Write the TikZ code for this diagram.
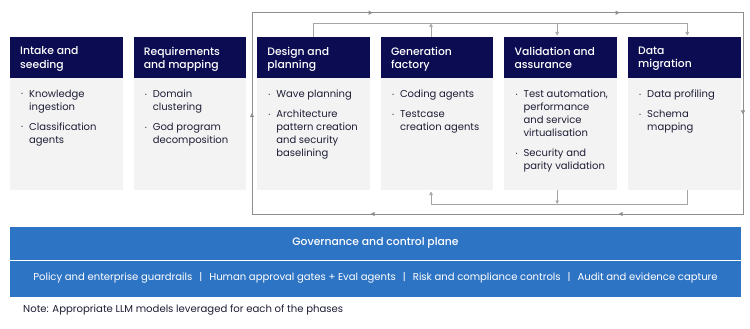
\documentclass[tikz,border=0pt]{standalone}
\usepackage{fontspec}
\setmainfont{Poppins}[BoldFont={Poppins Medium}]
\usetikzlibrary{arrows.meta,calc,decorations.markings}
\definecolor{navy}{HTML}{0C0C52}
\definecolor{bodybg}{HTML}{F3F3F3}
\definecolor{txt}{HTML}{1E1E36}
\definecolor{govblue}{HTML}{2E74C4}
\definecolor{linegray}{HTML}{A5A5A5}
\definecolor{outergray}{HTML}{8E8E8E}
\newcommand{\mybul}{\makebox[8pt][l]{\raisebox{1.2pt}{\fontsize{5}{5}\selectfont •}}}
\newcommand{\myind}{\hspace*{8pt}}
\begin{document}
\begin{tikzpicture}[x=1pt,y=-1pt,
  hdr/.style={fill=navy, minimum width=112.5pt, minimum height=41pt, anchor=north west, inner sep=0, outer sep=0},
  bodybox/.style={fill=bodybg, minimum width=112.5pt, minimum height=112pt, anchor=north west, inner sep=0, outer sep=0},
  htext/.style={anchor=north west, inner sep=0, align=left, text=white, font=\fontsize{10.8}{13.5}\selectfont\bfseries},
  btext/.style={anchor=north west, inner sep=0, align=left, text=txt, font=\fontsize{10}{13}\selectfont},
  conn/.style={draw=linegray, line width=0.6pt},
  tip/.style={-{Triangle[length=3.5pt,width=3.5pt]}},
  outer/.style={draw=outergray, line width=0.9pt},
  mk/.style={postaction={decorate}, decoration={markings,
     mark=at position 101pt with {\arrow[outergray]{Triangle[length=4pt,width=4pt]}},
     mark=at position 322pt with {\arrow[outergray]{Triangle[length=4pt,width=4pt]}},
     mark=at position 569pt with {\arrow[outergray]{Triangle[length=4pt,width=4pt]}},
     mark=at position 794pt with {\arrow[outergray]{Triangle[length=4pt,width=4pt]}},
     mark=at position 1018pt with {\arrow[outergray]{Triangle[length=4pt,width=4pt]}},
     mark=at position 1266pt with {\arrow[outergray]{Triangle[length=4pt,width=4pt]}}}},
]
\useasboundingbox (0,0) rectangle (750,329);

% phase boxes
\node[bodybox] (intakeb) at (10,78) {};
\node[hdr] (intake) at (10,37) {};
\node[bodybox] (reqb) at (133.6,78) {};
\node[hdr] (req) at (133.6,37) {};
\node[bodybox] (designb) at (257.2,78) {};
\node[hdr] (design) at (257.2,37) {};
\node[bodybox] (genb) at (380.8,78) {};
\node[hdr] (gen) at (380.8,37) {};
\node[bodybox] (valb) at (504.4,78) {};
\node[hdr] (val) at (504.4,37) {};
\node[bodybox] (datab) at (628,78) {};
\node[hdr] (data) at (628,37) {};

% headers
\node[htext] (intakeh) at ($(intake.north west)+(10,9.5)$) {Intake and\\seeding};
\node[htext] (reqh) at ($(req.north west)+(10,9.5)$) {Requirements\\and mapping};
\node[htext] (designh) at ($(design.north west)+(10,9.5)$) {Design and\\planning};
\node[htext] (genh) at ($(gen.north west)+(10,9.5)$) {Generation\\factory};
\node[htext] (valh) at ($(val.north west)+(10,9.5)$) {Validation and\\assurance};
\node[htext] (datah) at ($(data.north west)+(10,9.5)$) {Data\\migration};

% bodies
\node[btext] (intaket) at ($(intakeb.north west)+(11,11.5)$) {\mybul Knowledge\\\myind ingestion\\[7pt]\mybul Classification\\\myind agents};
\node[btext] (reqt) at ($(reqb.north west)+(11,11.5)$) {\mybul Domain\\\myind clustering\\[7pt]\mybul God program\\\myind decomposition};
\node[btext] (designt) at ($(designb.north west)+(11,11.5)$) {\mybul Wave planning\\[7pt]\mybul Architecture\\\myind pattern creation\\\myind and security\\\myind baselining};
\node[btext] (gent) at ($(genb.north west)+(11,11.5)$) {\mybul Coding agents\\[7pt]\mybul Testcase\\\myind creation agents};
\node[btext] (valt) at ($(valb.north west)+(11,11.5)$) {\mybul Test automation,\\\myind performance\\\myind and service\\\myind virtualisation\\[7pt]\mybul Security and\\\myind parity validation};
\node[btext] (datat) at ($(datab.north west)+(11,11.5)$) {\mybul Data profiling\\[7pt]\mybul Schema\\\myind mapping};

% outer loop
\coordinate (BL) at (252,214);
\coordinate (TL) at (252,12.7);
\coordinate (TR) at (743,12.7);
\coordinate (BR) at (743,214);
\draw[outer, mk] (BL) -- (TL) -- (TR) -- (BR) -- cycle;

% inner top connectors
\coordinate (gTop) at ($(gen.north)+(-6,0)$);
\coordinate (vTop) at ($(val.north)+(-3.5,0)$);
\coordinate (dTop) at ($(data.north)+(3,0)$);
\draw[conn, tip, shorten >=1.5pt] (design.north) -- ++(0,-13.5) -| (dTop);
\draw[conn, tip] (gTop) -- ++(0,-13.5);
\draw[conn, tip, shorten >=1.5pt] ($(vTop)+(0,-13.5)$) -- (vTop);

% inner bottom connectors
\coordinate (gBot) at ($(genb.south)+(-6,0)$);
\coordinate (vBot) at ($(valb.south)+(-3.5,0)$);
\coordinate (dBot) at ($(datab.south)+(3,0)$);
\draw[conn, tip, shorten >=1.5pt] (dBot) -- ++(0,14) -| (gBot);
\draw[conn, tip] (vBot) -- ++(0,14);

% governance
\node[fill=govblue, minimum width=731pt, minimum height=70pt, anchor=north west, inner sep=0, outer sep=0] (gov) at (10,227) {};
\draw[white, line width=0.8pt] ($(gov.north west)+(0,33)$) -- ($(gov.north east)+(0,33)$);
\node[text=white, font=\fontsize{10.8}{12}\selectfont\bfseries, inner sep=0] (govt) at ($(gov.north)+(0,16)$) {Governance and control plane};
\node[text=white, font=\fontsize{10.05}{11}\selectfont, inner sep=0] (govs) at ($(gov.north)+(0,51)$) {Policy and enterprise guardrails\hspace{7pt}|\hspace{7pt}Human approval gates + Eval agents\hspace{7pt}|\hspace{7pt}Risk and compliance controls\hspace{7pt}|\hspace{7pt}Audit and evidence capture};
\node[text=txt, font=\fontsize{10.1}{11}\selectfont, inner sep=0, anchor=west] (note) at (23,310) {Note: Appropriate LLM models leveraged for each of the phases};
\end{tikzpicture}
\end{document}
